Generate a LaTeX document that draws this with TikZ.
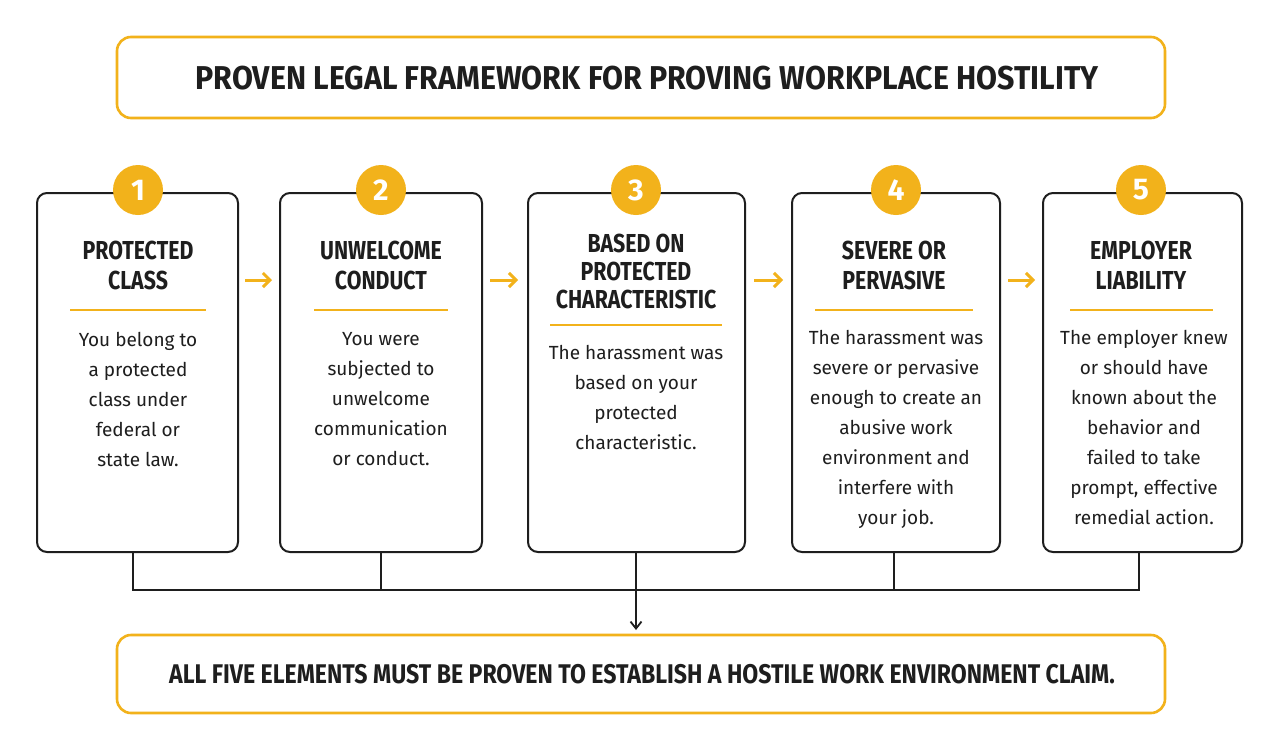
\documentclass[tikz,border=0pt]{standalone}
\usepackage{fontspec}
\setmainfont{Fira Sans}
\usetikzlibrary{arrows.meta}
\definecolor{gold}{HTML}{F2B21B}
\definecolor{ink}{HTML}{1E1E1E}
\begin{document}
\begin{tikzpicture}[x=1pt,y=-1pt,
  frame/.style={draw=gold,line width=2.6pt,rounded corners=14pt},
  card/.style={draw=ink,line width=2pt,rounded corners=10pt},
  num/.style={circle,fill=gold,minimum size=50pt,inner sep=0pt,text=white,font=\fontsize{30}{30}\selectfont\bfseries},
  head/.style={align=center,font=\fontsize{26}{26}\selectfont\bfseries,text=ink},
  body/.style={align=center,font=\fontsize{19}{30}\selectfont,text=ink},
  rule/.style={draw=gold,line width=2pt},
  garrow/.style={draw=gold,line width=3pt,-{Straight Barb[length=7pt,width=14pt]}},
  link/.style={draw=ink,line width=1.8pt}]
\useasboundingbox (0,0) rectangle (1280,750);
\fill[white] (0,0) rectangle (1280,750);
\draw[frame] (117,37) rectangle (1165,118);
\node[text=ink] (title) at (647,78) {\scalebox{0.92}[1]{\fontsize{33}{33}\selectfont\bfseries PROVEN LEGAL FRAMEWORK FOR PROVING WORKPLACE HOSTILITY}};
\draw[frame] (117,635) rectangle (1165,713);
\node[text=ink] (foot) at (642,674) {\scalebox{0.855}[1]{\fontsize{27}{27}\selectfont\bfseries ALL FIVE ELEMENTS MUST BE PROVEN TO ESTABLISH A HOSTILE WORK ENVIRONMENT CLAIM.}};
% cards
\draw[card] (37,193) rectangle (238,552); \coordinate (b1) at (133,552);
\draw[card] (280,193) rectangle (482,552); \coordinate (b2) at (381,552);
\draw[card] (528,193) rectangle (745,552); \coordinate (b3) at (636,552);
\draw[card] (792,193) rectangle (1000,552); \coordinate (b4) at (894,552);
\draw[card] (1043,193) rectangle (1242,552); \coordinate (b5) at (1139,552);
\node[num] (n1) at (138,190) {1};
\node[num] (n2) at (381,190) {2};
\node[num] (n3) at (636,190) {3};
\node[num] (n4) at (896,190) {4};
\node[num] (n5) at (1141,190) {5};
\node[head] (h1) at (138,265) {\scalebox{0.82}[1]{PROTECTED}\\[4pt]\scalebox{0.82}[1]{CLASS}};
\node[head] (h2) at (381,265) {\scalebox{0.82}[1]{UNWELCOME}\\[4pt]\scalebox{0.82}[1]{CONDUCT}};
\node[head] (h3) at (636,271) {\scalebox{0.82}[1]{BASED ON}\\[2pt]\scalebox{0.82}[1]{PROTECTED}\\[2pt]\scalebox{0.82}[1]{CHARACTERISTIC}};
\node[head] (h4) at (894,265) {\scalebox{0.82}[1]{SEVERE OR}\\[4pt]\scalebox{0.82}[1]{PERVASIVE}};
\node[head] (h5) at (1141,265) {\scalebox{0.82}[1]{EMPLOYER}\\[4pt]\scalebox{0.82}[1]{LIABILITY}};
\draw[rule] (70,310) -- (206,310);
\draw[rule] (314,310) -- (448,310);
\draw[rule] (550,325) -- (722,325);
\draw[rule] (815,310) -- (973,310);
\draw[rule] (1070,310) -- (1213,310);
\node[body,anchor=north] (t1) at (138,329) {You belong to\\a protected\\class under\\federal or\\state law.};
\node[body,anchor=north] (t2) at (381,329) {You were\\subjected to\\unwelcome\\communication\\or conduct.};
\node[body,anchor=north] (t3) at (636,342) {The harassment was\\based on your\\protected\\characteristic.};
\node[body,anchor=north] (t4) at (896,327) {The harassment was\\severe or pervasive\\enough to create an\\abusive work\\environment and\\interfere with\\your job.};
\node[body,anchor=north] (t5) at (1144,327) {The employer knew\\or should have\\known about the\\behavior and\\failed to take\\prompt, effective\\remedial action.};
% orange arrows
\coordinate (a1s) at (245,280); \coordinate (a1e) at (272,280);
\coordinate (a2s) at (490,280); \coordinate (a2e) at (518,280);
\coordinate (a3s) at (754,280); \coordinate (a3e) at (783,280);
\coordinate (a4s) at (1008,280); \coordinate (a4e) at (1035,280);
\draw[garrow] (a1s) -- (a1e);
\draw[garrow] (a2s) -- (a2e);
\draw[garrow] (a3s) -- (a3e);
\draw[garrow] (a4s) -- (a4e);
% connectors
\draw[link] (b1) |- (b5 |- 0,590) -- (b5);
\draw[link] (b2) -- (b2 |- 0,590);
\draw[link] (b4) -- (b4 |- 0,590);
\draw[link,-{Straight Barb[length=7pt,width=11pt]}] (b3) -- (636,630);
\end{tikzpicture}
\end{document}
